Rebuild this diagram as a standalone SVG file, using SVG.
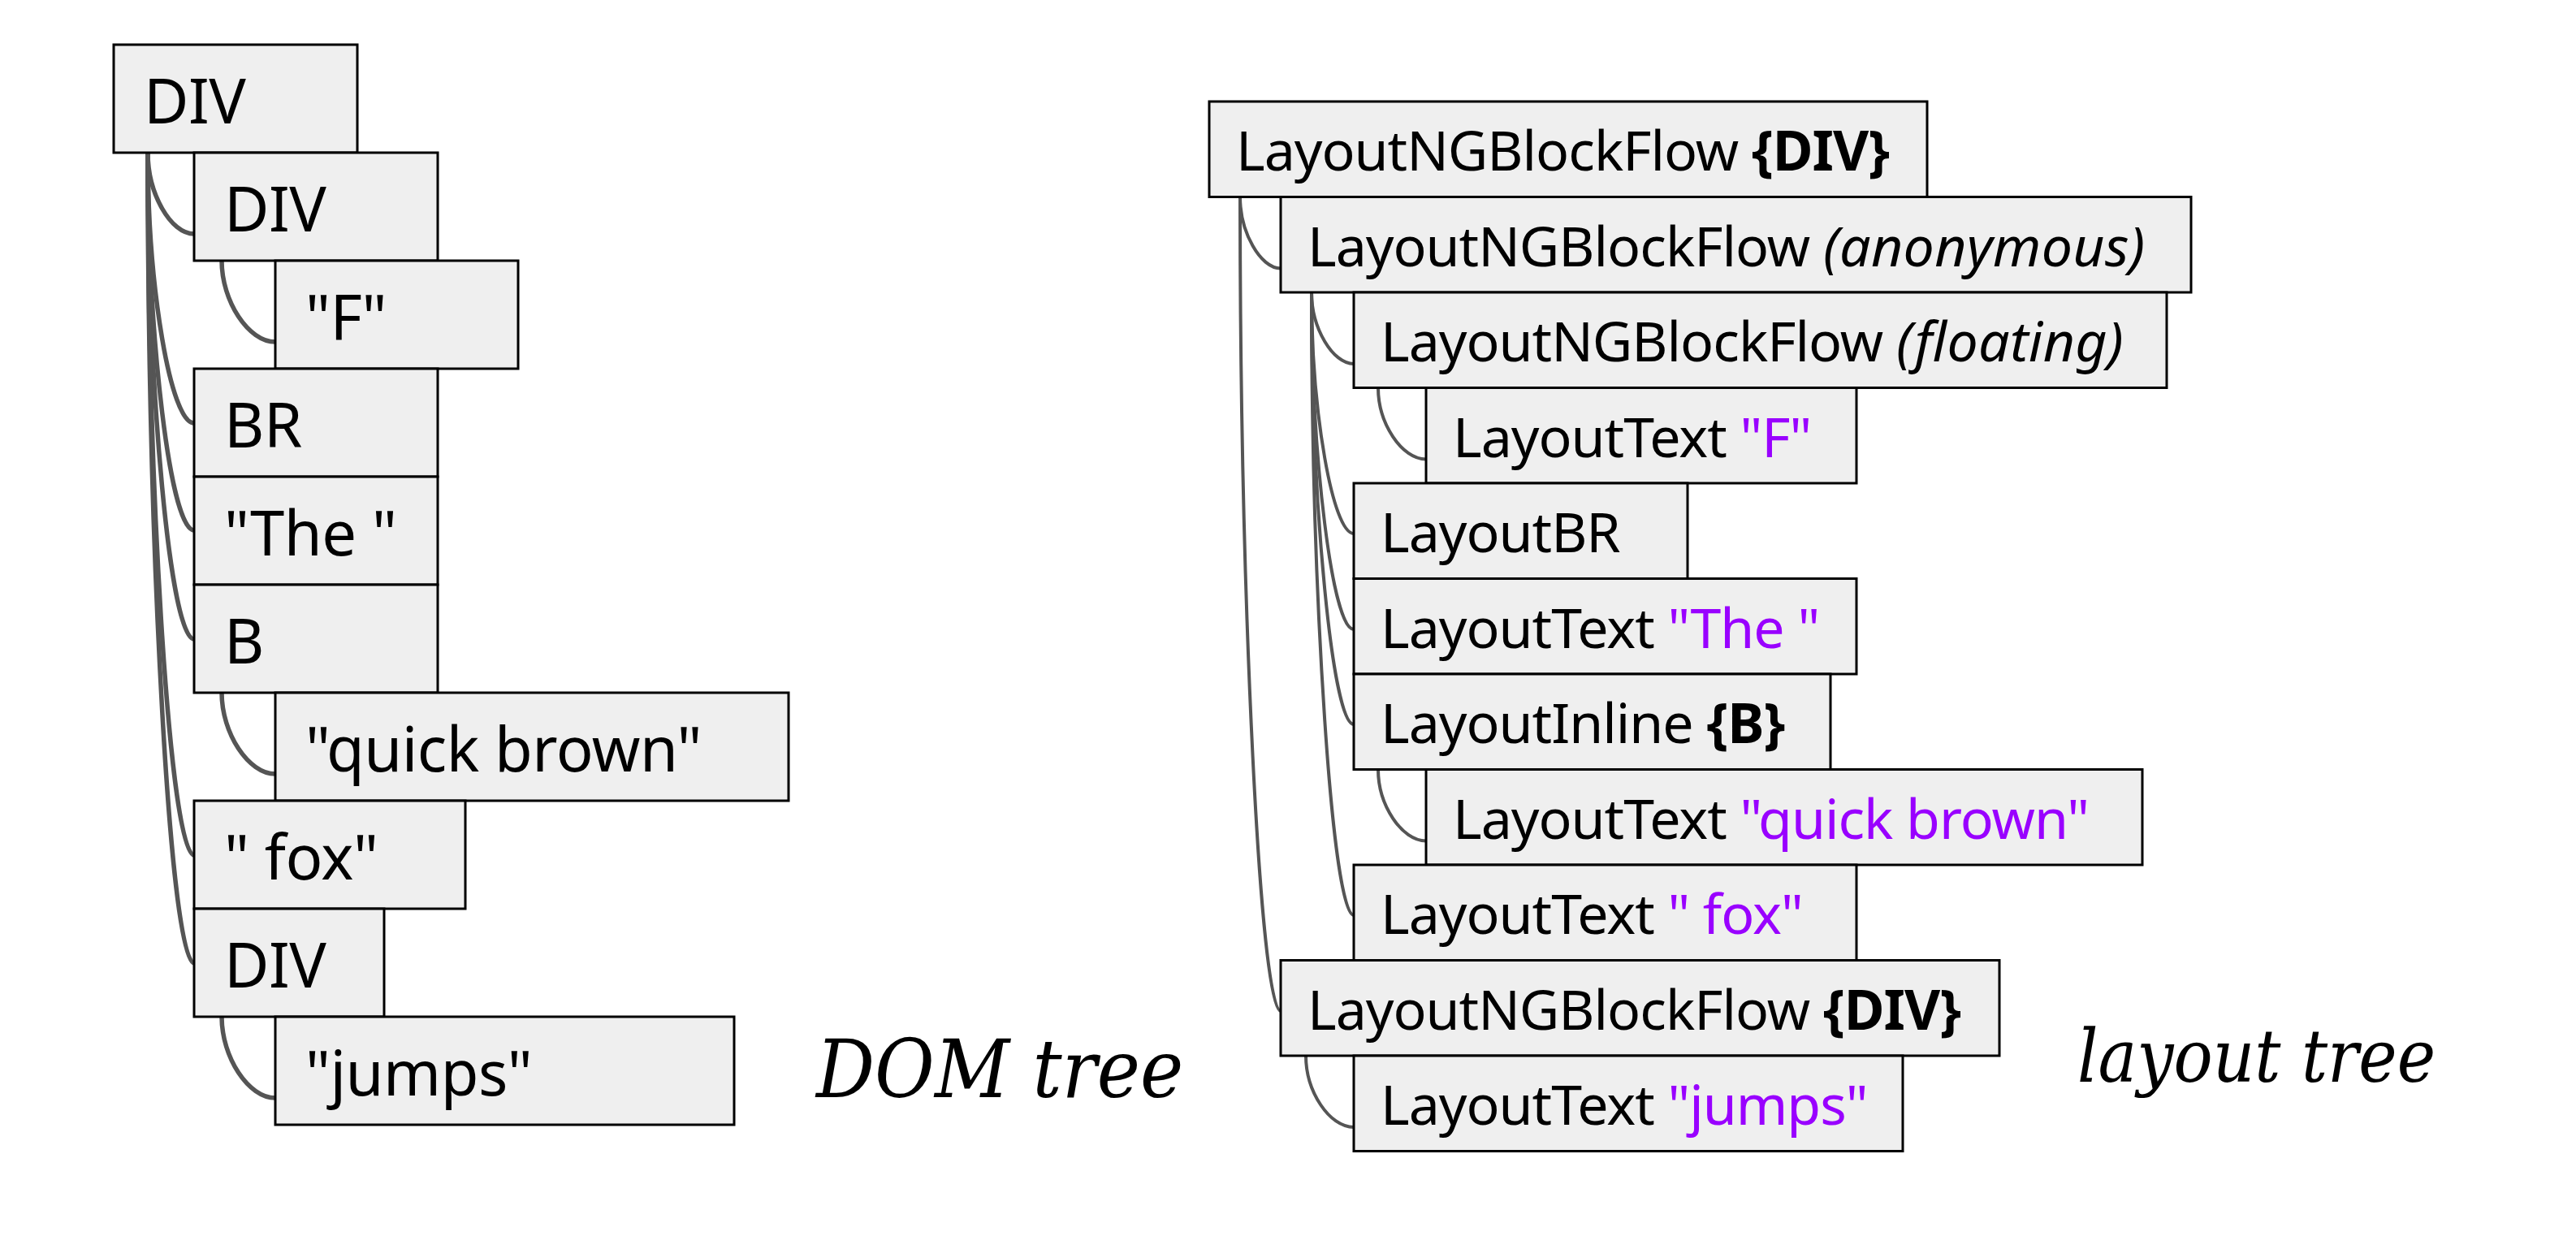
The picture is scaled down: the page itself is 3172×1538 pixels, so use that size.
<svg xmlns="http://www.w3.org/2000/svg" width="3172" height="1538" viewBox="0 0 3172 1538">
<style>
.box{fill:#efefef;stroke:#000;stroke-width:3}
.dt{font-family:"Noto Sans","Open Sans",sans-serif;font-size:76px;letter-spacing:-0.5px;fill:#000;white-space:pre}
.lt{font-family:"Noto Sans","Open Sans",sans-serif;font-size:68px;letter-spacing:-1px;fill:#000;white-space:pre}
.p{fill:#9900ff}
.b{font-weight:bold}
.i{font-style:italic;letter-spacing:0.3px}
.cd{fill:none;stroke:#555;stroke-width:5.5}
.cl{fill:none;stroke:#555;stroke-width:4}
.cap{font-family:"DejaVu Serif","Liberation Serif",serif;font-style:italic;font-stretch:condensed;fill:#000}
</style>
<rect width="3172" height="1538" fill="#fff"/>
<g id="connectors">
<path class="cd" d="M182 188 C182 238 210 288 239 288"/>
<path class="cd" d="M182 188 C182 354 210 521 239 521"/>
<path class="cd" d="M182 188 C182 420 210 653 239 653"/>
<path class="cd" d="M182 188 C182 487 210 787 239 787"/>
<path class="cd" d="M182 188 C182 620 210 1053 239 1053"/>
<path class="cd" d="M182 188 C182 686 210 1186 239 1186"/>
<path class="cd" d="M273 321 C273 371 306 421 339 421"/>
<path class="cd" d="M273 853 C273 903 306 953 339 953"/>
<path class="cd" d="M273 1252 C273 1302 306 1352 339 1352"/>
<path class="cl" d="M1527 242.5 C1527 286 1552 330.5 1577 330.5"/>
<path class="cl" d="M1527 242.5 C1527 744 1552 1245 1577 1245"/>
<path class="cl" d="M1615 360 C1615 404 1641 448 1667 448"/>
<path class="cl" d="M1615 360 C1615 508 1641 657 1667 657"/>
<path class="cl" d="M1615 360 C1615 567 1641 775 1667 775"/>
<path class="cl" d="M1615 360 C1615 626 1641 892 1667 892"/>
<path class="cl" d="M1615 360 C1615 743 1641 1127 1667 1127"/>
<path class="cl" d="M1697 477.5 C1697 521 1726 565.5 1756 565.5"/>
<path class="cl" d="M1697 947.5 C1697 991 1726 1035.5 1756 1035.5"/>
<path class="cl" d="M1608 1300 C1608 1344 1637 1388 1667 1388"/>
</g>
<g id="dom-div-root"><rect class="box" x="140" y="55" width="300" height="133"/><text class="dt" x="177" y="152">DIV</text></g>
<g id="dom-div"><rect class="box" x="239" y="188" width="300" height="133"/><text class="dt" x="276" y="285">DIV</text></g>
<g id="dom-text-f"><rect class="box" x="339" y="321" width="299" height="133"/><text class="dt" x="376" y="418">"F"</text></g>
<g id="dom-br"><rect class="box" x="239" y="454" width="300" height="133"/><text class="dt" x="276" y="551">BR</text></g>
<g id="dom-text-the"><rect class="box" x="239" y="587" width="300" height="133"/><text class="dt" x="276" y="684">"The "</text></g>
<g id="dom-b"><rect class="box" x="239" y="720" width="300" height="133"/><text class="dt" x="276" y="817">B</text></g>
<g id="dom-text-quick"><rect class="box" x="339" y="853" width="632" height="133"/><text class="dt" x="376" y="950">"quick brown"</text></g>
<g id="dom-text-fox"><rect class="box" x="239" y="986" width="334" height="133"/><text class="dt" x="276" y="1083">" fox"</text></g>
<g id="dom-div2"><rect class="box" x="239" y="1119" width="234" height="133"/><text class="dt" x="276" y="1216">DIV</text></g>
<g id="dom-text-jumps"><rect class="box" x="339" y="1252" width="565" height="133"/><text class="dt" x="376" y="1349">"jumps"</text></g>
<g id="label-dom"><text class="cap" x="1005" y="1351" font-size="100">DOM tree</text></g>
<g id="lay-root"><rect class="box" x="1489" y="125" width="884" height="117.5"/><text class="lt" x="1522" y="210">LayoutNGBlockFlow <tspan class="b">{DIV}</tspan></text></g>
<g id="lay-anon"><rect class="box" x="1577" y="242.5" width="1121" height="117.5"/><text class="lt" x="1610" y="327.5">LayoutNGBlockFlow <tspan class="i">(anonymous)</tspan></text></g>
<g id="lay-float"><rect class="box" x="1667" y="360" width="1001" height="117.5"/><text class="lt" x="1700" y="445">LayoutNGBlockFlow <tspan class="i">(floating)</tspan></text></g>
<g id="lay-text-f"><rect class="box" x="1756" y="477.5" width="530" height="117.5"/><text class="lt" x="1789" y="562.5">LayoutText <tspan class="p">"F"</tspan></text></g>
<g id="lay-br"><rect class="box" x="1667" y="595" width="411" height="117.5"/><text class="lt" x="1700" y="680">LayoutBR</text></g>
<g id="lay-text-the"><rect class="box" x="1667" y="712.5" width="619" height="117.5"/><text class="lt" x="1700" y="797.5">LayoutText <tspan class="p">"The "</tspan></text></g>
<g id="lay-inline-b"><rect class="box" x="1667" y="830" width="587" height="117.5"/><text class="lt" x="1700" y="915">LayoutInline <tspan class="b">{B}</tspan></text></g>
<g id="lay-text-quick"><rect class="box" x="1756" y="947.5" width="882" height="117.5"/><text class="lt" x="1789" y="1032.5">LayoutText <tspan class="p">"quick brown"</tspan></text></g>
<g id="lay-text-fox"><rect class="box" x="1667" y="1065" width="619" height="117.5"/><text class="lt" x="1700" y="1150">LayoutText <tspan class="p">" fox"</tspan></text></g>
<g id="lay-div2"><rect class="box" x="1577" y="1182.5" width="885" height="117.5"/><text class="lt" x="1610" y="1267.5">LayoutNGBlockFlow <tspan class="b">{DIV}</tspan></text></g>
<g id="lay-text-jumps"><rect class="box" x="1667" y="1300" width="676" height="117.5"/><text class="lt" x="1700" y="1385">LayoutText <tspan class="p">"jumps"</tspan></text></g>
<g id="label-layout"><text class="cap" x="2558" y="1332" font-size="89">layout tree</text></g>
</svg>
